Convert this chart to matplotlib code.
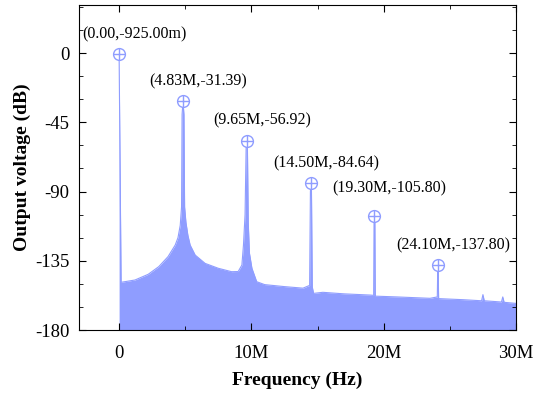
import numpy as np
import matplotlib.pyplot as plt
from matplotlib.ticker import MultipleLocator, FuncFormatter

plt.rcParams['font.family'] = ['Liberation Serif', 'DejaVu Serif']
plt.rcParams['axes.unicode_minus'] = False

# spectrum envelope (MHz, dB)
spec_mhz = [0.0, 0.15, 1.2, 2.2, 3.0, 3.7, 4.24, 4.45, 4.62, 4.72, 4.76, 4.83, 4.9,
            4.95, 5.05, 5.2, 5.37, 5.75, 6.5, 7.5, 8.5, 9.0, 9.28, 9.4, 9.52, 9.6,
            9.65, 9.7, 9.76, 9.85, 10.04, 10.4, 11.0, 12.5, 13.9, 14.4, 14.46, 14.5,
            14.54, 14.6, 14.7, 15.4, 17.0, 19.0, 19.24, 19.27, 19.3, 19.33, 19.36,
            21.0, 23.5, 24.05, 24.08, 24.1, 24.12, 24.15, 26.0, 27.4, 27.5, 27.6,
            28.9, 29.0, 29.1, 30.0]
spec_db = [-0.925, -149.0, -147.5, -143.8, -138.8, -132.3, -124.8, -120.0, -112.0,
           -100.0, -40.0, -31.39, -40.0, -100.0, -110.0, -118.5, -124.8, -131.3,
           -136.7, -139.9, -142.1, -142.0, -137.8, -124.8, -105.0, -62.0, -56.92,
           -62.0, -110.0, -130.0, -139.9, -148.6, -150.5, -151.8, -152.8, -151.0,
           -90.0, -84.64, -90.0, -152.0, -156.2, -155.5, -156.5, -157.3, -157.5,
           -110.0, -105.8, -110.0, -158.0, -158.5, -159.4, -158.5, -142.0, -137.8,
           -142.0, -159.6, -160.3, -161.0, -157.0, -161.0, -161.8, -158.5, -162.0,
           -162.7]

# labelled harmonics
peak_mhz = [0.0, 4.83, 9.65, 14.50, 19.30, 24.10]
peak_db = [-0.925, -31.39, -56.92, -84.64, -105.80, -137.80]
peak_labels = ['(0.00,-925.00m)', '(4.83M,-31.39)', '(9.65M,-56.92)',
               '(14.50M,-84.64)', '(19.30M,-105.80)', '(24.10M,-137.80)']

color = '#8f9dff'

fig = plt.figure(figsize=(5.35, 3.99), dpi=100)
ax = fig.add_axes([0.1477, 0.1729, 0.8168, 0.8146])

freq = np.array(spec_mhz) * 1e6
ax.fill_between(freq, spec_db, -180, color=color, lw=0)
ax.plot(freq, spec_db, color=color, lw=0.8)

pf = np.array(peak_mhz) * 1e6
ax.plot(pf, peak_db, 'o', ms=8.5, mfc='white', mec=color, mew=1.0, ls='none')
ax.plot(pf, peak_db, '+', ms=8.5, mec=color, mew=1.0, ls='none')

for f, d, lab in zip(pf, peak_db, peak_labels):
    dy = 20 if lab != '(19.30M,-105.80)' else 27
    ax.annotate(lab, (f, d), xytext=(11, dy * 0.72), textcoords='offset points',
                ha='center', va='center', fontsize=11.5)

ax.set_xlim(-3.03e6, 30e6)
ax.set_ylim(-180, 31.2)
ax.xaxis.set_major_locator(MultipleLocator(10e6))
ax.xaxis.set_minor_locator(MultipleLocator(5e6))
ax.yaxis.set_major_locator(MultipleLocator(45))
ax.yaxis.set_minor_locator(MultipleLocator(15))
ax.xaxis.set_major_formatter(FuncFormatter(lambda v, p: '0' if v == 0 else f'{v/1e6:.0f}M'))
ax.tick_params(which='both', direction='in', top=True, right=True, labelsize=13.5)
ax.tick_params(which='major', length=5)
ax.tick_params(which='minor', length=3)
ax.tick_params(axis='x', pad=11)
ax.tick_params(axis='y', pad=7)

ax.set_xlabel('Frequency (Hz)', fontsize=14, fontweight='bold', labelpad=7)
ax.set_ylabel('Output voltage (dB)', fontsize=14, fontweight='bold', labelpad=3)

fig.savefig('out.png', dpi=100)
